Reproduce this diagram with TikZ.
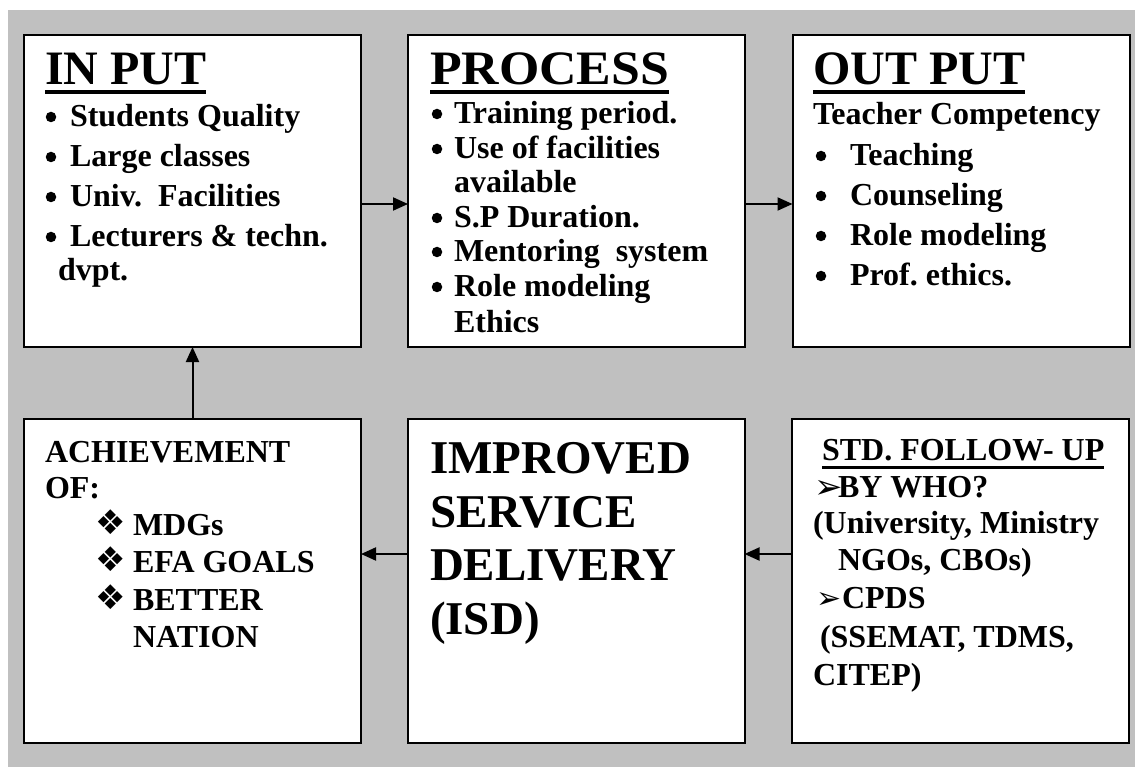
\documentclass[tikz,border=0pt]{standalone}
\usepackage{fontspec}
\usepackage{graphicx}
\setmainfont{Liberation Serif}
\newfontfamily\dingfont{DejaVu Sans}
\usetikzlibrary{arrows.meta}
\definecolor{bggray}{HTML}{C0C0C0}
\frenchspacing
\tikzset{
  box/.style={draw=black, fill=white, line width=2pt, minimum width=337pt, minimum height=312pt, inner sep=0pt, outer sep=0pt},
  bigbox/.style={box, minimum height=324pt},
  txt/.style={anchor=base west, inner sep=0pt, outer sep=0pt, font=\fontsize{32}{35}\selectfont\bfseries},
  dot/.style={circle, fill=black, draw=none, minimum size=10.5pt, inner sep=0pt, outer sep=0pt},
  ttl/.style={anchor=base west, inner sep=0pt, outer sep=0pt, font=\fontsize{48}{52}\selectfont\bfseries},
  isd/.style={anchor=base west, inner sep=0pt, outer sep=0pt, font=\fontsize{47}{52}\selectfont\bfseries},
  std/.style={anchor=base west, inner sep=0pt, outer sep=0pt, font=\fontsize{32}{35}\selectfont\bfseries},
  ding/.style={anchor=base west, inner sep=0pt, outer sep=0pt, font=\fontsize{34}{36}\selectfont\dingfont},
  uline/.style={line width=4pt},
  arr/.style={line width=2pt, -{Triangle[length=15pt,width=13pt]}}
}
\begin{document}
\begin{tikzpicture}[x=1pt,y=-1pt]
\useasboundingbox (0,0) rectangle (1135,767);
\fill[bggray] (8,10) rectangle (1135,767);
% boxes
\node[box] (b1) at (192.5,191) {};
\node[box] (b2) at (576.5,191) {};
\node[box] (b3) at (961,191) {};
\node[bigbox] (b4) at (192.5,581) {};
\node[bigbox] (b5) at (576,581) {};
\node[bigbox] (b6) at (960.5,581) {};
% connectors
\draw[arr] ([yshift=-13pt]b1.east) -- ([yshift=-13pt]b2.west);
\draw[arr] ([yshift=-13pt]b2.east) -- ([yshift=-13pt]b3.west);
\draw[arr] ([yshift=27pt]b6.west) -- ([yshift=27pt]b5.east);
\draw[arr] ([yshift=27pt]b5.west) -- ([yshift=27pt]b4.east);
\draw[arr] (b4.north) -- (b1.south);
% box 1
\node[ttl] (t1) at (45,85) {IN PUT};
\draw[uline] ([yshift=-7pt]t1.base west) -- ([yshift=-7pt]t1.base east);
\node[dot] (p1a) at (51,117) {};
\node[txt] (t1a) at (70,127) {Students Quality};
\node[dot] (p1b) at (51,157) {};
\node[txt] (t1b) at (70,167) {Large classes};
\node[dot] (p1c) at (51,197) {};
\node[txt] (t1c) at (70,207) {Univ.\ \ Facilities};
\node[dot] (p1d) at (51,237) {};
\node[txt] (t1d) at (70,247) {Lecturers \& techn.};
\node[txt] (t1e) at (58,281) {dvpt.};
% box 2
\node[ttl] (t2) at (430,85) {\scalebox{1.08}[1]{PROCESS}};
\draw[uline] ([yshift=-7pt]t2.base west) -- ([yshift=-7pt]t2.base east);
\node[dot] (p2a) at (437,114) {};
\node[txt] (t2a) at (454,124) {Training period.};
\node[dot] (p2b) at (437,149) {};
\node[txt] (t2b) at (454,159) {Use of facilities};
\node[txt] (t2c) at (454,193) {available};
\node[dot] (p2d) at (437,218) {};
\node[txt] (t2d) at (454,228) {S.P Duration.};
\node[dot] (p2e) at (437,252) {};
\node[txt] (t2e) at (454,262) {Mentoring\ \ system};
\node[dot] (p2f) at (437,287) {};
\node[txt] (t2f) at (454,297) {Role modeling};
\node[txt] (t2g) at (454,332) {Ethics};
% box 3
\node[ttl] (t3) at (813,85) {OUT PUT};
\draw[uline] ([yshift=-7pt]t3.base west) -- ([yshift=-7pt]t3.base east);
\node[txt] (t3a) at (813,125) {Teacher Competency};
\node[dot] (p3b) at (821,156) {};
\node[txt] (t3b) at (850,166) {Teaching};
\node[dot] (p3c) at (821,196) {};
\node[txt] (t3c) at (850,206) {Counseling};
\node[dot] (p3d) at (821,236) {};
\node[txt] (t3d) at (850,246) {Role modeling};
\node[dot] (p3e) at (821,276) {};
\node[txt] (t3e) at (850,286) {Prof. ethics.};
% box 4
\node[txt] (t4a) at (45,462) {ACHIEVEMENT};
\node[txt] (t4b) at (45,498) {OF:};
\node[ding] (p4c) at (95,534) {❖};
\node[txt] (t4c) at (133,535) {MDGs};
\node[ding] (p4d) at (95,571) {❖};
\node[txt] (t4d) at (133,572) {EFA GOALS};
\node[ding] (p4e) at (95,609) {❖};
\node[txt] (t4e) at (133,610) {BETTER};
\node[txt] (t4f) at (133,647) {NATION};
% box 5
\node[isd] (t5a) at (430,473) {IMPROVED};
\node[isd] (t5b) at (430,527) {SERVICE};
\node[isd] (t5c) at (430,580) {DELIVERY};
\node[isd] (t5d) at (430,634) {(ISD)};
% box 6
\node[std] (t6) at (822,460) {STD. FOLLOW- UP};
\draw[line width=3pt] ([yshift=-7pt]t6.base west) -- ([yshift=-7pt]t6.base east);
\node[ding] (p6a) at (814,498) {➢};
\node[txt] (t6a) at (838,497) {BY WHO?};
\node[txt] (t6b) at (813,533) {(University, Ministry};
\node[txt] (t6c) at (838,570) {NGOs, CBOs)};
\node[ding, font=\fontsize{30}{32}\selectfont\dingfont] (p6d) at (816,608) {➢};
\node[txt] (t6d) at (842,608) {CPDS};
\node[txt] (t6e) at (820,647) {(SSEMAT, TDMS,};
\node[txt] (t6f) at (813,685) {CITEP)};
\end{tikzpicture}
\end{document}
